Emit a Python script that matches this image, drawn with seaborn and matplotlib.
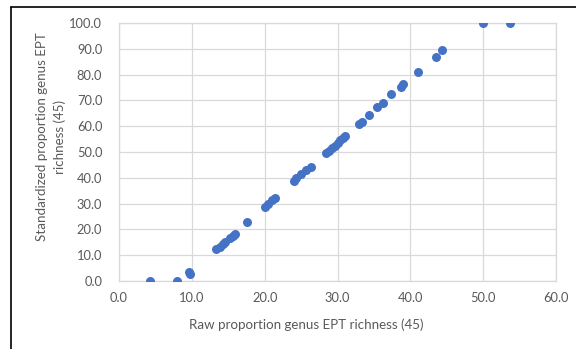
import matplotlib
matplotlib.use("Agg")
import matplotlib.pyplot as plt
import seaborn as sns
import pandas as pd
from matplotlib.lines import Line2D

# Raw vs standardized proportion of genus-level EPT richness (45)
raw_pct = [4.3, 8.0, 9.6, 9.7,
           13.3, 13.8, 14.3, 14.6, 15.2, 15.6, 15.9,
           17.6,
           20.0, 20.5, 21.0, 21.4,
           24.0, 24.3, 25.0, 25.7, 26.3,
           28.4, 28.8, 29.2, 29.6, 30.0, 30.4, 30.7, 31.0,
           33.0, 33.3, 34.3, 35.4, 36.2, 37.4,
           38.7, 39.0, 41.0, 43.5, 44.4, 50.0, 53.7]
std_pct = [0.0, 0.0, 3.5, 2.6,
           12.3, 13.3, 14.5, 15.2, 16.6, 17.4, 18.3,
           22.7,
           28.5, 30.0, 31.2, 32.3,
           38.9, 39.8, 41.3, 42.9, 44.3,
           49.5, 50.5, 51.5, 52.5, 53.5, 54.5, 55.5, 56.2,
           60.9, 61.6, 64.3, 67.3, 68.9, 72.4,
           75.2, 76.2, 80.9, 86.7, 89.5, 100.0, 100.0]
x_ticks = [0, 10, 20, 30, 40, 50, 60]
y_ticks = [0, 10, 20, 30, 40, 50, 60, 70, 80, 90, 100]
x_title = "Raw proportion genus EPT richness (45)"
y_title = "Standardized proportion genus EPT\nrichness (45)"

df = pd.DataFrame({"raw": raw_pct, "std": std_pct})

sns.set_theme(style="white")
plt.rcParams["font.family"] = ["Lato", "DejaVu Sans"]

text_grey = "#595959"
grid_grey = "#d9d9d9"
dot_blue = "#4472c4"

fig = plt.figure(figsize=(5.76, 3.49), dpi=100)
ax = fig.add_axes([0.2066, 0.195, 0.7587, 0.739])

sns.scatterplot(data=df, x="raw", y="std", ax=ax, color=dot_blue,
                s=42, edgecolor=dot_blue, linewidth=0, zorder=3)

ax.set_xlim(0, 60)
ax.set_ylim(0, 100)
ax.set_xticks(x_ticks)
ax.set_yticks(y_ticks)
ax.set_xticklabels([f"{v:.1f}" for v in x_ticks])
ax.set_yticklabels([f"{v:.1f}" for v in y_ticks])
ax.tick_params(axis="both", length=0, labelsize=9.3, colors=text_grey)
ax.tick_params(axis="x", pad=8)
ax.tick_params(axis="y", pad=12)

ax.grid(True, color=grid_grey, linewidth=0.9)
ax.set_axisbelow(True)
for side in ["left", "bottom", "right", "top"]:
    ax.spines[side].set_visible(True)
    ax.spines[side].set_color(grid_grey)
    ax.spines[side].set_linewidth(0.9)

ax.set_xlabel("")
ax.set_ylabel("")
fig.text(306 / 576, 1 - 325 / 349, x_title, ha="center", va="center",
         fontsize=9.6, color=text_grey)
fig.text(51 / 576, 1 - 137 / 349, y_title, ha="center", va="center",
         rotation=90, fontsize=9.6, color=text_grey, multialignment="center",
         linespacing=1.55)

# chart-area frame on the left and top
fig.add_artist(Line2D([10.5 / 576, 10.5 / 576], [0, 1 - 6.5 / 349],
                      transform=fig.transFigure, color="black", linewidth=1.2))
fig.add_artist(Line2D([10.5 / 576, 1], [1 - 6.5 / 349, 1 - 6.5 / 349],
                      transform=fig.transFigure, color="black", linewidth=1.2))

fig.savefig("out.png", dpi=100)
